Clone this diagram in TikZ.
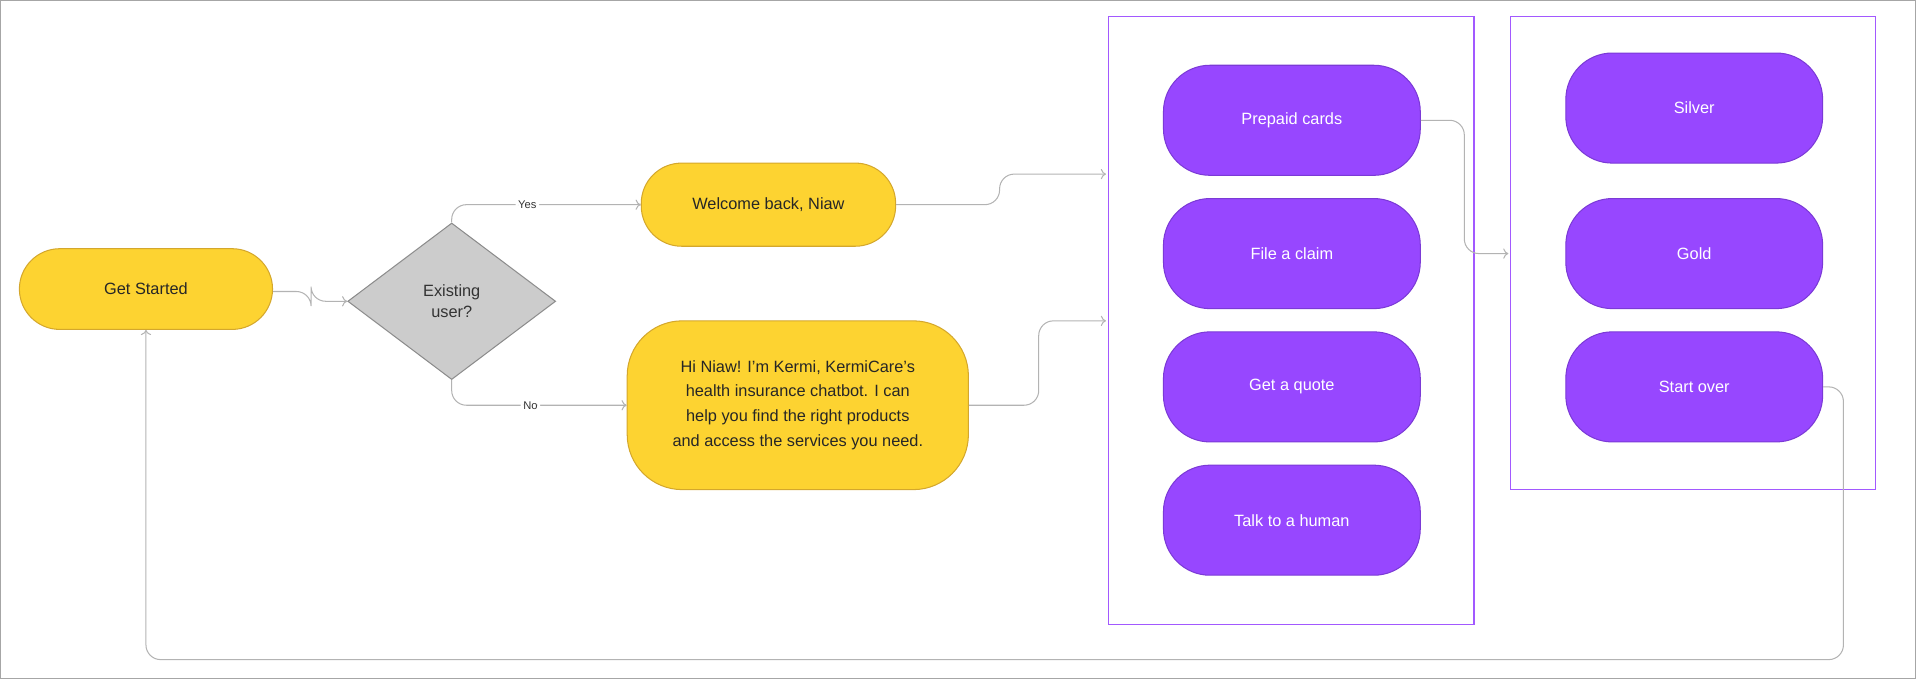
\documentclass[tikz,border=0pt]{standalone}
\usepackage{fontspec}
\setmainfont{Liberation Sans}
\usetikzlibrary{shapes.geometric,arrows.meta}
\definecolor{yel}{HTML}{FDD331}
\definecolor{yelb}{HTML}{D4A72C}
\definecolor{pur}{HTML}{9747FF}
\definecolor{purb}{HTML}{7B3AD6}
\definecolor{frm}{HTML}{A259FF}
\definecolor{ln}{HTML}{B3B3B3}
\begin{document}
\begin{tikzpicture}[x=0.05cm,y=-0.05cm,
  ybox/.style={draw=yelb,fill=yel,line width=1.2pt,rounded corners=33*0.05cm,text=black!85,font=\fontsize{19}{23}\selectfont,inner sep=0pt},
  pbox/.style={draw=purb,fill=pur,line width=1.2pt,rounded corners=38*0.05cm,text=white,font=\fontsize{19}{23}\selectfont,minimum width=210*0.05cm,minimum height=90*0.05cm,inner sep=0pt},
  frame/.style={draw=frm,line width=1.5pt,inner sep=0pt},
  conn/.style={draw=ln,line width=1.2pt,rounded corners=12*0.05cm,-{To[length=6pt,width=12pt]}},
  lab/.style={fill=white,font=\fontsize{13}{15}\selectfont,text=black!80,inner sep=3pt}]
\draw[draw=black!35,line width=1pt] (1,1) rectangle (1567,555);
\node[ybox,minimum width=207*0.05cm,minimum height=66*0.05cm] (gs) at (120,237) {Get Started};
\node[diamond,draw=black!45,fill=black!20,line width=1.2pt,minimum width=170*0.05cm,minimum height=128*0.05cm,inner sep=0pt,aspect=1.33,align=center,font=\fontsize{19}{25}\selectfont,text=black!80] (ex) at (370,247) {Existing\\user?};
\node[ybox,minimum width=208*0.05cm,minimum height=68*0.05cm] (wb) at (629,168) {Welcome back, Niaw};
\node[ybox,rounded corners=45*0.05cm,minimum width=279*0.05cm,minimum height=138*0.05cm,align=center,font=\fontsize{19}{29}\selectfont] (hi) at (653,332) {Hi Niaw! I’m Kermi, KermiCare’s\\health insurance chatbot. I can\\help you find the right products\\and access the services you need.};
\node[frame,minimum width=299*0.05cm,minimum height=497*0.05cm] (f1) at (1056.5,262.5) {};
\node[frame,minimum width=298*0.05cm,minimum height=387*0.05cm] (f2) at (1385,207.5) {};
\node[pbox] (pc) at (1057,99) {Prepaid cards};
\node[pbox] (fc) at (1057,208) {File a claim};
\node[pbox] (gq) at (1057,317) {Get a quote};
\node[pbox] (th) at (1057,426) {Talk to a human};
\node[pbox] (si) at (1386,89) {Silver};
\node[pbox] (go) at (1386,208) {Gold};
\node[pbox] (so) at (1386,317) {Start over};
\coordinate (c1) at (905,143);
\coordinate (c2) at (905,263);
\coordinate (c3) at (1234,208);
\draw[conn] (gs.east |- 0,239) -- (255,239) -- (255,247) -- (ex.west);
\draw[conn] (ex.north) -- (370,168) -- node[lab,pos=0.4]{Yes} (wb.west);
\draw[conn] (ex.south) -- (370,332) -- node[lab,pos=0.45]{No} (hi.west);
\draw[conn] (wb.east) -- (818,168) -- (818,143) -- (c1);
\draw[conn] (hi.east) -- (850,332) -- (850,263) -- (c2);
\draw[conn] (pc.east) -- (1198,99) -- (1198,208) -- (c3);
\draw[conn] (so.east) -- (1508,317) -- (1508,540) -- (120,540) -- (gs.south);
\end{tikzpicture}
\end{document}
